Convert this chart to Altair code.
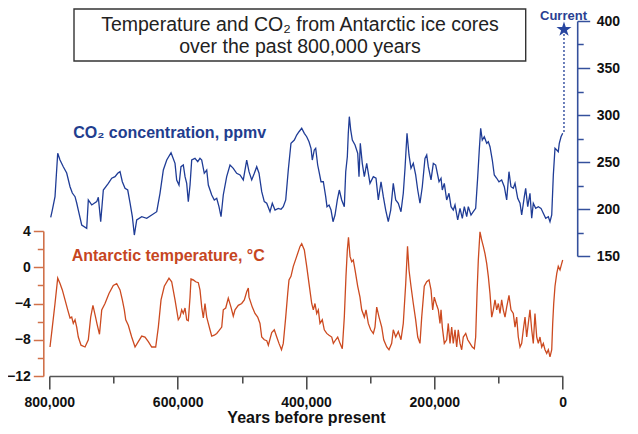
import altair as alt
import pandas as pd

# ---------------- data ----------------
co2_kyr = [797.8, 795.3, 791.1, 786.9, 783.3, 778.2, 772.9, 767.7, 764.1, 759.9,
           757.3, 754.8, 749.5, 741.7, 739.2, 733.9, 726.1, 723.6, 719.9, 715.8,
           708.0, 702.7, 697.6, 693.4, 689.8, 686.2, 682.0, 677.8, 674.2, 670.6,
           667.5, 663.8, 656.0, 648.2, 640.4, 632.6, 627.5, 622.3, 617.0, 610.3,
           604.1, 601.5, 597.9, 594.8, 591.2, 588.5, 585.9, 583.4, 580.7, 578.1,
           573.0, 568.7, 565.2, 562.5, 558.5, 554.7, 552.2, 546.9, 542.9, 539.1,
           535.6, 532.4, 528.9, 523.6, 518.4, 513.3, 508.0, 502.8, 497.7, 492.4,
           488.8, 484.6, 480.5, 476.8, 473.2, 469.0, 465.0, 461.2, 456.1, 452.5,
           448.3, 443.2, 438.9, 435.4, 431.6, 427.6, 423.4, 418.2, 414.5, 410.9,
           406.7, 402.6, 398.9, 395.3, 392.2, 390.2, 387.1, 384.9, 381.8, 379.7,
           376.6, 373.0, 369.3, 367.3, 364.1, 361.0, 357.9, 354.8, 351.2, 348.1,
           344.4, 340.3, 338.1, 335.6, 334.1, 332.5, 330.3, 327.8, 323.6, 319.4,
           317.4, 315.4, 312.3, 309.1, 305.4, 300.3, 295.1, 290.9, 287.3, 283.1,
           279.5, 275.8, 271.8, 268.0, 264.0, 260.2, 256.2, 252.0, 248.4, 245.7,
           242.6, 239.5, 236.4, 232.8, 229.1, 225.9, 222.4, 218.8, 214.6, 211.9,
           209.4, 205.2, 201.6, 197.9, 192.7, 189.6, 187.6, 184.5, 180.8, 177.2,
           174.0, 170.5, 167.8, 163.6, 160.0, 156.4, 153.3, 149.6, 147.1, 142.9,
           139.3, 135.6, 132.4, 130.0, 127.8, 125.3, 122.2, 118.4, 115.9, 113.3,
           109.7, 106.6, 102.8, 99.3, 95.1, 91.0, 87.3, 83.7, 80.6, 77.0,
           74.3, 70.1, 66.5, 63.9, 59.8, 57.7, 54.5, 51.0, 48.3, 45.8,
           42.1, 38.0, 33.8, 30.2, 26.5, 22.4, 19.8, 17.1, 14.6, 12.0,
           9.3, 6.9, 5.3, 2.6, 0.0]
co2_ppm = [191.2, 198.9, 213.1, 259.3, 252.1, 245.0, 238.3, 223.7, 217.0, 213.1,
           206.4, 198.9, 183.0, 179.5, 209.6, 204.3, 207.8, 212.4, 186.5, 220.2,
           227.3, 232.7, 234.4, 238.0, 239.7, 229.0, 222.0, 220.2, 206.4, 191.8,
           172.3, 188.3, 191.8, 190.1, 193.6, 197.1, 216.7, 241.5, 252.1, 259.9,
           248.6, 230.9, 225.5, 245.0, 246.8, 234.4, 227.3, 207.8, 225.5, 252.1,
           253.9, 250.3, 253.9, 252.1, 238.0, 241.5, 225.5, 214.9, 209.6, 211.4,
           202.5, 191.8, 214.9, 234.4, 246.8, 243.3, 238.0, 236.2, 230.9, 252.1,
           239.7, 230.9, 238.0, 245.0, 238.0, 218.4, 207.8, 206.1, 197.1, 206.1,
           198.9, 200.7, 199.7, 202.5, 209.6, 241.5, 269.9, 273.4, 278.7, 282.2,
           285.9, 280.5, 276.9, 271.6, 264.6, 252.1, 262.8, 264.6, 246.8, 239.7,
           229.0, 229.0, 213.1, 202.5, 204.3, 198.9, 186.5, 193.6, 209.6, 220.2,
           209.6, 202.5, 239.7, 255.6, 280.5, 298.2, 284.0, 273.4, 268.1, 259.3,
           234.4, 269.9, 248.6, 234.4, 248.6, 227.3, 234.4, 232.7, 209.6, 229.0,
           213.1, 198.9, 186.5, 198.9, 227.3, 209.6, 206.1, 197.1, 216.7, 243.3,
           280.5, 257.5, 243.3, 248.6, 236.2, 220.2, 206.1, 223.7, 253.9, 257.5,
           245.0, 230.9, 248.6, 246.8, 229.0, 232.7, 220.2, 227.3, 209.6, 216.7,
           202.5, 198.9, 204.3, 188.3, 200.7, 190.1, 202.5, 191.8, 202.5, 193.6,
           197.1, 200.7, 234.4, 262.8, 285.9, 273.4, 276.9, 269.9, 271.6, 266.3,
           252.1, 236.2, 232.7, 229.0, 230.9, 223.7, 209.6, 239.7, 223.7, 222.0,
           227.3, 211.4, 206.1, 193.6, 213.1, 222.0, 202.5, 216.7, 190.1, 206.1,
           200.7, 202.5, 200.7, 195.4, 190.1, 191.8, 186.5, 193.6, 236.2, 264.6,
           262.8, 261.0, 269.9, 276.9, 280.5]

temp_kyr = [798.9, 795.3, 791.1, 786.9, 783.3, 779.7, 775.5, 771.3, 767.7, 765.1,
            762.6, 759.9, 757.3, 754.8, 750.6, 744.3, 739.2, 735.5, 732.0, 728.5,
            725.5, 721.8, 718.3, 713.2, 707.0, 700.3, 695.0, 689.8, 686.2, 683.1,
            680.9, 676.9, 671.6, 666.4, 661.3, 656.0, 650.9, 645.7, 640.4, 634.2,
            630.1, 625.9, 620.8, 613.5, 609.3, 604.1, 599.0, 596.3, 593.7, 591.2,
            588.5, 585.9, 583.4, 580.7, 579.2, 575.6, 571.9, 567.8, 565.2, 562.5,
            560.0, 557.4, 554.7, 552.2, 549.6, 546.9, 542.9, 539.1, 535.6, 531.3,
            528.9, 525.1, 521.1, 516.9, 513.3, 510.6, 505.5, 500.2, 496.1, 492.4,
            489.9, 488.8, 483.7, 479.5, 475.3, 471.7, 469.0, 465.0, 461.2, 458.7,
            453.4, 449.4, 445.6, 442.1, 438.2, 435.4, 431.6, 428.5, 426.5, 423.4,
            419.8, 414.5, 409.3, 406.7, 402.6, 398.9, 395.3, 391.1, 388.6, 386.0,
            383.3, 380.8, 378.2, 374.6, 371.5, 367.7, 364.1, 359.9, 357.4, 353.7,
            350.6, 347.0, 343.4, 340.3, 337.7, 335.6, 333.8, 331.4, 328.8, 326.3,
            323.6, 319.4, 315.9, 313.2, 309.1, 306.5, 302.9, 299.2, 295.1, 292.5,
            289.8, 286.2, 282.0, 278.9, 274.2, 270.7, 266.5, 264.0, 260.2, 256.2,
            252.0, 248.4, 244.6, 241.8, 239.5, 236.4, 232.8, 229.1, 225.9, 222.4,
            219.7, 215.7, 211.9, 208.3, 205.2, 202.6, 200.1, 196.3, 193.8, 191.2,
            189.6, 187.6, 184.5, 180.8, 178.3, 175.6, 173.0, 170.5, 167.8, 165.2,
            162.7, 160.0, 157.4, 154.9, 151.1, 148.0, 144.4, 140.9, 137.7, 135.6,
            133.5, 131.5, 128.9, 126.2, 123.7, 121.1, 118.4, 115.9, 113.3, 110.6,
            108.1, 105.5, 102.8, 100.3, 97.7, 95.1, 92.6, 89.9, 87.3, 83.7,
            80.6, 77.0, 74.3, 71.7, 69.2, 66.5, 63.9, 61.4, 58.7, 56.1,
            53.6, 51.0, 48.3, 45.8, 43.2, 40.5, 38.0, 35.4, 32.7, 30.2,
            27.6, 24.9, 22.4, 19.8, 17.1, 15.6, 14.0, 12.0, 9.3, 6.9,
            4.2, 1.6, 0.0]
temp_c = [-8.8, -6.6, -4.0, -1.2, -1.8, -2.5, -3.6, -4.7, -5.6, -5.5,
          -6.2, -5.8, -6.6, -7.7, -8.6, -8.8, -8.0, -5.5, -4.2, -5.3,
          -6.3, -7.4, -4.7, -4.0, -2.9, -2.0, -1.8, -2.5, -3.6, -4.7,
          -5.8, -6.4, -7.7, -8.8, -8.2, -7.6, -7.7, -8.2, -8.8, -8.8,
          -6.6, -3.6, -2.1, -1.2, -1.6, -3.6, -5.8, -5.5, -4.7, -5.1,
          -4.5, -5.8, -5.9, -3.3, -1.3, -1.4, -1.6, -1.7, -2.5, -4.4,
          -5.6, -4.0, -5.5, -6.2, -6.9, -7.6, -7.5, -7.3, -7.0, -6.6,
          -4.7, -4.5, -3.4, -4.4, -5.4, -4.7, -4.2, -4.0, -3.6, -2.7,
          -2.3, -3.3, -4.4, -5.1, -5.5, -6.2, -7.7, -8.0, -8.1, -8.6,
          -7.2, -6.9, -7.7, -8.4, -9.1, -8.4, -5.5, -2.9, -1.4, -1.0,
          0.1, 1.2, 2.3, 2.6, 1.9, 0.1, -1.8, -4.0, -4.7, -4.0,
          -5.1, -4.7, -6.2, -5.8, -6.9, -7.3, -7.5, -7.7, -8.4, -8.0,
          -7.7, -8.4, -9.0, -5.5, -1.0, 1.9, 3.3, 1.2, 0.6, 0.8,
          -0.3, -2.1, -3.3, -4.7, -5.5, -4.7, -6.2, -6.9, -7.3, -6.6,
          -4.4, -5.5, -6.6, -8.0, -8.8, -9.1, -8.4, -6.9, -7.7, -7.1,
          -8.0, -6.2, -1.8, 2.3, -0.3, -2.1, -4.0, -5.8, -7.7, -8.4,
          -5.5, -2.1, -1.6, -1.4, -2.5, -4.7, -3.3, -4.2, -4.7, -6.2,
          -4.7, -6.6, -8.4, -8.0, -6.2, -8.4, -6.6, -8.4, -6.9, -8.8,
          -6.9, -8.4, -9.1, -7.7, -7.3, -8.0, -8.4, -8.8, -9.0, -7.7,
          -2.9, 0.8, 3.9, 3.0, 2.3, 1.5, 0.4, -1.0, -2.9, -5.5,
          -4.7, -3.6, -4.7, -4.0, -5.1, -3.6, -4.7, -5.5, -4.4, -3.1,
          -4.7, -5.1, -6.6, -5.5, -7.7, -8.8, -8.4, -6.9, -5.5, -7.7,
          -6.2, -4.7, -6.9, -8.4, -5.1, -7.7, -8.4, -7.7, -8.8, -8.4,
          -9.1, -9.5, -9.1, -9.9, -9.1, -6.2, -4.0, -2.1, -0.7, 0.1,
          -0.3, 0.4, 0.8]

current_kyr = [-2.0]          # position of the "Current" star
preindustrial_co2 = [282.0]   # top of the ice-core record
current_co2 = [391.0]         # current CO2 (star)

x_tick_values = [0, 100000, 200000, 300000, 400000, 500000, 600000, 700000, 800000]
temp_tick_values = [-12, -10, -8, -6, -4, -2, 0, 2, 4]
co2_tick_values = [150, 175, 200, 225, 250, 275, 300, 325, 350, 375, 400]

title_lines = ["Temperature and CO\u2082 from Antarctic ice cores",
               "over the past 800,000 years"]
co2_label_text = "CO\u2082 concentration, ppmv"
temp_label_text = "Antarctic temperature, \u00b0C"
current_text = "Current"

# ---------------- styling ----------------
FONT = "Liberation Sans"
BLUE = "#1f3c96"
BLUE_AX = "#34509c"
RED = "#cc4a20"
RED_AX = "#d0714a"
STAR = ("M0,-1 L0.2245,-0.309 L0.951,-0.309 L0.363,0.118 L0.588,0.809 "
        "L0,0.382 L-0.588,0.809 L-0.363,0.118 L-0.951,-0.309 L-0.2245,-0.309 Z")

co2_df = pd.DataFrame({"year": [k * 1000 for k in co2_kyr], "co2": co2_ppm})
temp_df = pd.DataFrame({"year": [k * 1000 for k in temp_kyr], "temp": temp_c})
cur_df = pd.DataFrame({"year": [k * 1000 for k in current_kyr],
                       "lo": preindustrial_co2, "hi": current_co2})

x_scale = alt.Scale(domain=[800000, 0], nice=False, zero=False)
x_axis = alt.Axis(
    orient="bottom", values=x_tick_values,
    labelExpr="datum.value % 200000 === 0 ? format(datum.value, ',') : ''",
    tickSize={"condition": {"test": "datum.value % 200000 === 0", "value": 13}, "value": 7},
    domain=True, domainColor="#555555", domainWidth=1.5,
    grid=False, tickColor="#444444", tickWidth=1.5,
    labelFont=FONT, labelFontSize=14, labelFontWeight="bold", labelColor="#111111",
    labelPadding=6, labelOverlap=False, labelFlush=False,
    title="Years before present", titleFont=FONT, titleFontSize=16,
    titleFontWeight="bold", titleColor="#111111", titlePadding=0,
)
x_enc = alt.X("year:Q", scale=x_scale, axis=x_axis)

co2_scale = alt.Scale(domain=[150, 400], range=[235, 0], nice=False, zero=False)
co2_axis = alt.Axis(
    orient="right", offset=14.5, values=co2_tick_values,
    labelExpr="datum.value % 50 === 0 ? datum.label : ''",
    tickSize={"condition": {"test": "datum.value % 50 === 0", "value": 12.5}, "value": 6},
    domainColor=BLUE_AX, domainWidth=1.6, tickColor=BLUE_AX, tickWidth=1.5, grid=False,
    labelFont=FONT, labelFontSize=14, labelFontWeight="bold", labelColor="#111111",
    labelPadding=6.5, labelOverlap=False, labelFlush=False, title=None,
)

temp_scale = alt.Scale(domain=[-12, 4], range=[355, 210], nice=False, zero=False)
temp_axis = alt.Axis(
    orient="left", offset=6, values=temp_tick_values,
    labelExpr="datum.value % 4 === 0 ? datum.label : ''",
    tickSize={"condition": {"test": "datum.value % 4 === 0", "value": 10}, "value": 6},
    domainColor=RED_AX, domainWidth=1.6, tickColor=RED_AX, tickWidth=1.5, grid=False,
    labelFont=FONT, labelFontSize=14, labelFontWeight="bold", labelColor="#111111",
    labelPadding=3, labelOverlap=False, labelFlush=False, title=None,
)

co2_line = alt.Chart(co2_df).mark_line(color=BLUE, strokeWidth=1.3).encode(
    x=x_enc, y=alt.Y("co2:Q", scale=co2_scale, axis=co2_axis))
co2_rule = alt.Chart(cur_df).mark_rule(color=BLUE, strokeWidth=1.3, strokeDash=[2, 2]).encode(
    x=x_enc, y=alt.Y("lo:Q", scale=co2_scale, axis=co2_axis), y2="hi:Q")
star = alt.Chart(cur_df).mark_point(shape=STAR, filled=True, size=250, color="#2846a0",
                                    opacity=1).encode(
    x=x_enc, y=alt.Y("hi:Q", scale=co2_scale, axis=co2_axis))
co2_group = alt.layer(co2_line, co2_rule, star)

temp_line = alt.Chart(temp_df).mark_line(color=RED, strokeWidth=1.3).encode(
    x=x_enc, y=alt.Y("temp:Q", scale=temp_scale, axis=temp_axis))
temp_group = alt.layer(temp_line)


def text_mark(text, x, y, size, color, weight="bold", align="left"):
    return alt.Chart(pd.DataFrame({"t": [text]})).mark_text(
        font=FONT, fontSize=size, fontWeight=weight, color=color,
        align=align, baseline="middle").encode(
        x=alt.value(x), y=alt.value(y), text="t:N")


box = alt.Chart(pd.DataFrame({"a": [0]})).mark_rect(
    fill="white", stroke="#333333", strokeWidth=1.4).encode(
    x=alt.value(24.7), x2=alt.value(476.4), y=alt.value(-12), y2=alt.value(40))

title1 = text_mark(title_lines[0], 250.7, 4, 19.5, "#222222", weight="normal", align="center")
title2 = text_mark(title_lines[1], 250.7, 26, 19.5, "#222222", weight="normal", align="center")
cur_label = text_mark(current_text, 514.2, -5.5, 13, "#2a3f92", align="center")
co2_label = text_mark(co2_label_text, 24, 112.3, 16, "#223d8e")
temp_label = text_mark(temp_label_text, 22.4, 234.7, 16, "#c6461f")

# svg = 622 x 418 so that the page (8px margins) fits the 638 x 434 window
chart = alt.layer(
    box, title1, title2, cur_label, co2_label, temp_label, co2_group, temp_group
).resolve_scale(y="independent").properties(
    width=513.4, height=355,
    padding={"left": 41.3, "top": 13, "right": 67.3, "bottom": 50},
    autosize=alt.AutoSizeParams(type="none"),
).configure(background="white", font=FONT).configure_view(stroke=None)

chart.save("out.html", embed_options={"renderer": "svg", "actions": False})
